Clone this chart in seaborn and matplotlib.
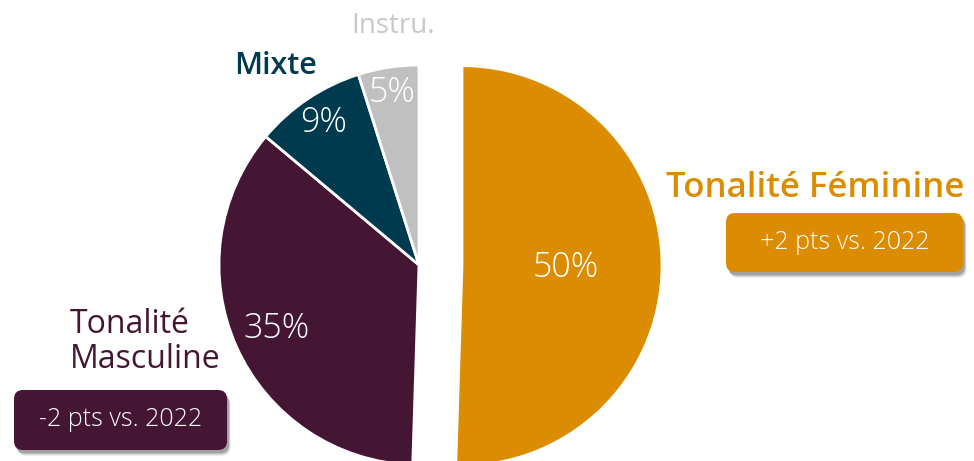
"""Pie chart: tonalité des voix."""

import matplotlib

matplotlib.use("Agg")
import matplotlib.pyplot as plt
import numpy as np
import seaborn as sns
from matplotlib.patches import FancyBboxPatch

# Data
categories = ["Tonalité Féminine", "Tonalité Masculine", "Mixte", "Instru."]
shares = [50.5, 35.6, 9.0, 4.9]
pct_labels = ["50%", "35%", "9%", "5%"]
evolution = ["+2 pts vs. 2022", "-2 pts vs. 2022", None, None]

colors = ["#DB8C00", "#441634", "#003A4F", "#C0C0C0"]
name_colors = ["#DB8C00", "#441634", "#003A4F", "#C8C8C8"]

sns.set_theme(style="white")
plt.rcParams["font.family"] = ["Open Sans", "DejaVu Sans"]

W, H = 974, 461
fig = plt.figure(figsize=(W / 100, H / 100), dpi=100)
ax = fig.add_axes([0, 0, 1, 1])

wedges, _ = ax.pie(
    shares,
    colors=colors,
    startangle=90,
    counterclock=False,
    explode=[43, 0, 0, 0],
    center=(419, 196),
    radius=200,
    wedgeprops=dict(edgecolor="white", linewidth=2),
)
ax.set_xlim(0, W)
ax.set_ylim(0, H)
ax.set_aspect("equal")
ax.axis("off")

# percentage labels inside the slices
label_dist = [0.52, 0.78, 0.855, 0.87]
for w, txt, d in zip(wedges, pct_labels, label_dist):
    mid = np.deg2rad((w.theta1 + w.theta2) / 2)
    cx, cy = w.center
    ax.text(cx + d * w.r * np.cos(mid), cy + d * w.r * np.sin(mid), txt,
            ha="center", va="center", color="white", fontsize=24.5,
            fontweight="light")

# category names
ax.text(815, 264, categories[0], ha="center", va="baseline",
        color=name_colors[0], fontsize=25, fontweight="semibold")
ax.text(70, 93, categories[1].replace(" ", "\n"), ha="left", va="baseline",
        color=name_colors[1], fontsize=23, fontweight="medium", linespacing=1.08)
ax.text(276, 387, categories[2], ha="center", va="baseline",
        color=name_colors[2], fontsize=22, fontweight="semibold")
ax.text(393, 428, categories[3], ha="center", va="baseline",
        color=name_colors[3], fontsize=20, fontweight="normal")

# evolution boxes with a soft shadow
boxes = {0: (726, 189, 237, 59), 1: (14, 11, 213, 60)}
for i, (x0, y0, bw, bh) in boxes.items():
    for k, a in enumerate([0.07, 0.09, 0.12, 0.14]):
        off = 6 - k
        ax.add_patch(FancyBboxPatch((x0 + off * 0.6, y0 - off), bw, bh,
                                    boxstyle="round,pad=0,rounding_size=9",
                                    fc="black", ec="none", alpha=a, zorder=3))
    ax.add_patch(FancyBboxPatch((x0, y0), bw, bh,
                                boxstyle="round,pad=0,rounding_size=9",
                                fc=colors[i], ec="none", zorder=4))
    ax.text(x0 + bw / 2, y0 + bh / 2, evolution[i], ha="center", va="center",
            color="white", fontsize=18, fontweight="light", zorder=5)

fig.savefig("out.png", dpi=100)
plt.close(fig)
